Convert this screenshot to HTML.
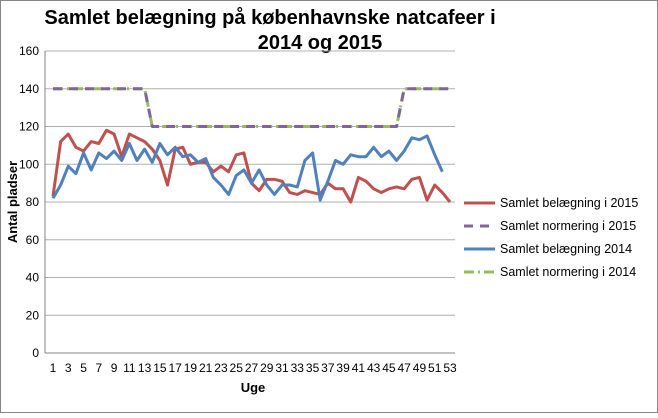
<!DOCTYPE html>
<html><head><meta charset="utf-8"><style>
body{margin:0;background:#fff;font-family:"Liberation Sans",sans-serif}
svg text{font-family:"Liberation Sans",sans-serif}
</style></head><body>
<svg id="c" width="658" height="413" xmlns="http://www.w3.org/2000/svg">
<rect x="0.5" y="0.5" width="657" height="412" fill="#fff" stroke="#868686"/>
<text x="270" y="24" text-anchor="middle" font-size="20" font-weight="bold">Samlet belægning på københavnske natcafeer i</text>
<text x="320" y="49" text-anchor="middle" font-size="20" font-weight="bold">2014 og 2015</text>
<text transform="translate(17,202) rotate(-90)" text-anchor="middle" font-size="13" font-weight="bold">Antal pladser</text>
<text x="253" y="392" text-anchor="middle" font-size="13" font-weight="bold">Uge</text>
<g id="grid"></g><g id="series"></g><g id="legend"></g>
</svg>
<script>
const weeks=[];for(let i=1;i<=53;i++)weeks.push(i);
const yTicks=[0,20,40,60,80,100,120,140,160];
const bel2015=[83,112,116,109,107,112,111,118,116,104,116,114,112,108,102,89,108,109,100,101,101,96,99,96,105,106,90,86,92,92,91,85,84,86,85,84,90,87,87,80,93,91,87,85,87,88,87,92,93,81,89,85,80];
const bel2014=[82,89,99,95,106,97,106,103,107,102,111,102,108,101,111,105,109,104,105,101,103,93,89,84,94,97,90,97,89,84,89,89,88,102,106,81,91,102,100,105,104,104,109,104,107,102,107,114,113,115,105,96];
const norm2015=[140,140,140,140,140,140,140,140,140,140,140,140,140,120,120,120,120,120,120,120,120,120,120,120,120,120,120,120,120,120,120,120,120,120,120,120,120,120,120,120,120,120,120,120,120,120,140,140,140,140,140,140,140];
const norm2014=norm2015.slice();
const NS="http://www.w3.org/2000/svg";
const x0=45,x1=455,y0=353,y1=51;
const xs=i=>53+i*(397/52);
const ys=v=>y0-(y0-y1)*v/160;
function mk(t,a,p){const e=document.createElementNS(NS,t);for(const k in a)e.setAttribute(k,a[k]);p.appendChild(e);return e;}
const g=document.getElementById('grid');
yTicks.forEach(v=>{
 const l=mk('line',{x1:x0,x2:x1,y1:ys(v),y2:ys(v),stroke:v===0?'#868686':'#b0b0b0'},g);
 
 
 const t=mk('text',{x:x0-6,y:ys(v)+4,'text-anchor':'end','font-size':'12'},g);t.textContent=v;
 
 
});
const ax=mk('line',{x1:x0,x2:x0,y1:y1,y2:y0,stroke:'#868686'},g);


weeks.forEach((w,i)=>{
 if(i%2===0){const t=mk('text',{x:xs(i),y:y0+19,'text-anchor':'middle','font-size':'12'},g);t.textContent=w;
 
 }
});
const s=document.getElementById('series');
function line(d,col,dash,name){
 const pts=d.map((v,i)=>xs(i)+','+ys(v)).join(' ');
 const p=mk('polyline',{points:pts,fill:'none',stroke:col,'stroke-width':'3','stroke-linejoin':'round','stroke-dasharray':dash},s);
 
 
}
line(norm2014,'#9bbb59','10,4,2,4','series-normering-2014');
line(norm2015,'#8064a2','9,7','series-normering-2015');
line(bel2015,'#c0504d','none','series-belaegning-2015');
line(bel2014,'#4f81bd','none','series-belaegning-2014');
const L=document.getElementById('legend');
const leg=[['Samlet belægning i 2015','#c0504d','none'],['Samlet normering i 2015','#8064a2','9,7'],['Samlet belægning 2014','#4f81bd','none'],['Samlet normering i 2014','#9bbb59','10,4,2,4']];
leg.forEach((e,i)=>{
 const y=203+i*23;
 const l=mk('line',{x1:464,x2:495,y1:y,y2:y,stroke:e[1],'stroke-width':'3','stroke-dasharray':e[2]},L);
 
 
 const t=mk('text',{x:500,y:y+4,'font-size':'12.5'},L);t.textContent=e[0];
 
 
});
</script>
</body></html>
